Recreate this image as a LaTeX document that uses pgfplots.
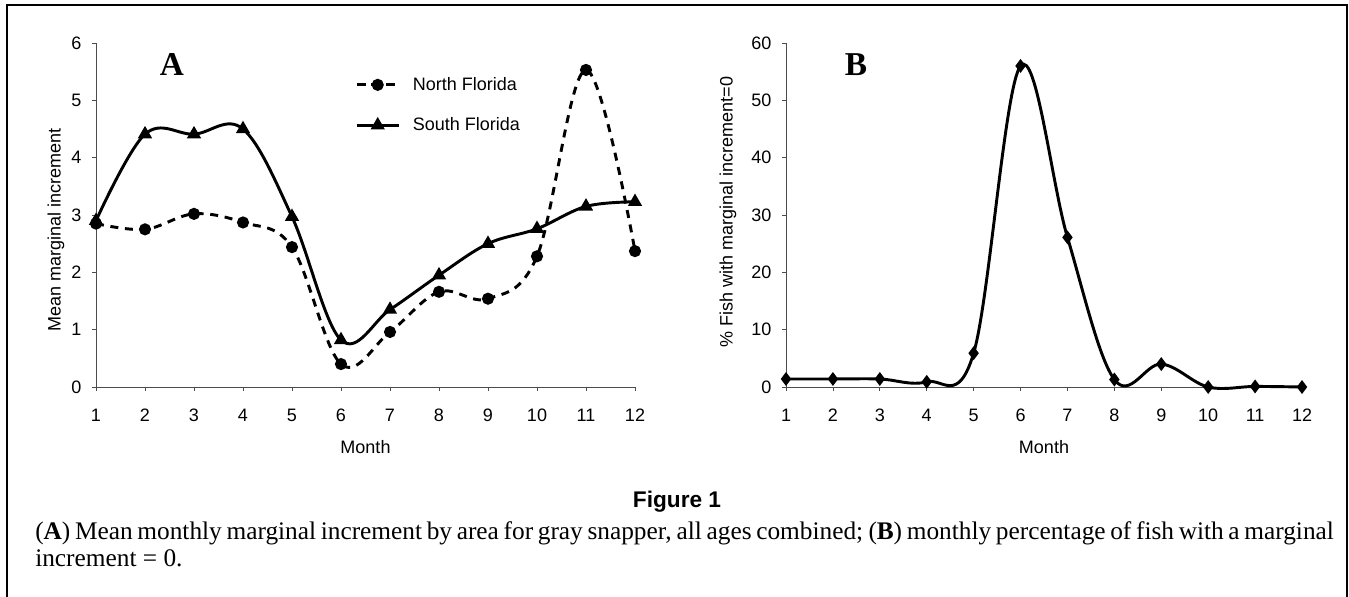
\documentclass[border=0pt]{standalone}
\usepackage{pgfplots}
\usepackage{pgfplotstable}
\pgfplotsset{compat=1.18}
\usepackage{fontspec}
\setmainfont{Liberation Serif}
\newfontfamily\arial{Liberation Sans}

\pgfplotstableread{
m nf sf
1 2.85 2.90
2 2.75 4.41
3 3.02 4.41
4 2.87 4.50
5 2.44 2.97
6 0.40 0.82
7 0.96 1.35
8 1.66 1.95
9 1.54 2.50
10 2.28 2.76
11 5.53 3.15
12 2.37 3.23
}\dataA

\pgfplotstableread{
m p
1 1.4
2 1.4
3 1.4
4 0.9
5 5.9
6 56.0
7 26.1
8 1.3
9 4.0
10 0.0
11 0.1
12 0.0
}\dataB

\pgfplotsset{
  panel/.style={
    scale only axis,
    axis lines=left,
    axis line style={black!70, line width=0.6pt, -},
    xmin=1, xmax=12, xtick={1,...,12},
    tick align=outside, major tick length=3pt,
    tick style={black!70, line width=0.6pt},
    tick label style={font=\arial\fontsize{13.5}{13.5}\selectfont},
    /pgf/number format/assume math mode=true,
    label style={font=\arial\fontsize{13.5}{13.5}\selectfont},
    xticklabel style={yshift=-10pt, text height=9.7pt, text depth=0pt},
    yticklabel style={xshift=-4.5pt},
    xlabel style={at={(axis description cs:0.5,0)}, anchor=center, yshift=-45pt},
    clip=false,
  },
}

\begin{document}
\begin{tikzpicture}
\begin{scope}[x=0.75pt,y=-0.75pt]
\useasboundingbox (0,0) rectangle (1349,596);
\draw[line width=2.1pt] (7,5) rectangle (1347,650);
\node[font=\arial\bfseries\fontsize{17}{17}\selectfont, anchor=base] at (677,507) {Figure 1};
\node[font=\fontsize{19}{19}\selectfont, anchor=base west, inner sep=0pt] at (35,539)
  {\hbox to 974pt{(\textbf{A}) Mean monthly marginal increment by area for gray snapper, all ages combined; (\textbf{B}) monthly percentage of fish with a marginal}};
\node[font=\fontsize{19}{19}\selectfont, anchor=base west, inner sep=0pt] at (35,566)
  {increment = 0.};
\end{scope}

% Panel A
\begin{axis}[panel,
  at={(72pt,-290.25pt)}, anchor=south west,
  width=404.25pt, height=258pt,
  ymin=0, ymax=6, ytick={0,...,6},
  xlabel={Month},
  ylabel={Mean marginal increment},
  ylabel style={at={(axis description cs:0,0.456)}, anchor=center, yshift=30pt},
  legend style={at={(axis description cs:0.4805,0.901)}, anchor=north west,
    draw=none, fill=none, inner sep=0pt, row sep=19pt,
    font=\arial\fontsize{13.5}{13.5}\selectfont,
    nodes={inner sep=0pt},
    /tikz/every odd column/.append style={column sep=9.5pt}},
  legend cell align=left,
  legend image code/.code={%
    \draw[mark repeat=2,mark phase=2,#1] plot coordinates {(0pt,0pt) (15.75pt,0pt) (31.5pt,0pt)};},
]
\addplot[black, line width=2.2pt, dash pattern=on 6pt off 5pt, smooth, tension=0.6,
  mark=*, mark size=3.4pt, mark options={solid}] table[x=m,y=nf] {\dataA};
\addlegendentry{North Florida}
\addplot[black, line width=2.2pt, smooth, tension=0.6,
  mark=triangle*, mark size=4pt, mark options={solid}] table[x=m,y=sf] {\dataA};
\addlegendentry{South Florida}
\node[font=\bfseries\fontsize{25}{25}\selectfont] at (axis cs:2.55,5.62) {A};
\end{axis}

% Panel B
\begin{axis}[panel,
  at={(589.5pt,-290.25pt)}, anchor=south west,
  width=387pt, height=258pt,
  ymin=0, ymax=60, ytick={0,10,...,60},
  xlabel={Month},
  ylabel={\% Fish with marginal increment=0},
  ylabel style={at={(axis description cs:0,0.509)}, anchor=center, yshift=43.5pt},
]
\addplot[black, line width=2.2pt, smooth, tension=0.6,
  mark=diamond*, mark size=3.4pt, mark options={solid}] table[x=m,y=p] {\dataB};
\node[font=\bfseries\fontsize{25}{25}\selectfont] at (axis cs:2.49,56.2) {B};
\end{axis}
\end{tikzpicture}
\end{document}
